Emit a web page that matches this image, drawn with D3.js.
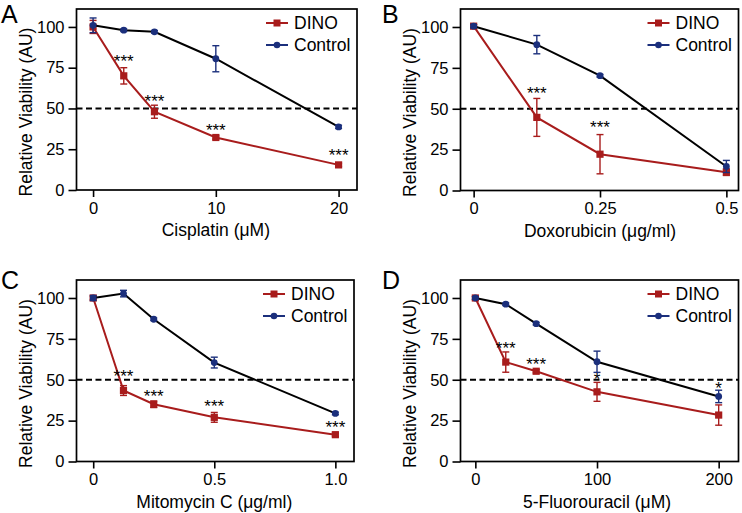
<!DOCTYPE html>
<html>
<head>
<meta charset="utf-8">
<script src="https://cdn.jsdelivr.net/npm/d3@7"></script>
<style>
  body { margin: 0; background: #fff; }
  svg { display: block; font-family: "Liberation Sans", Arial, sans-serif; }
</style>
</head>
<body>
<svg width="742" height="513"></svg>
<script>
/* Data */

// Panel A - Cisplatin (uM)
var cisDose = [0, 2.5, 5, 10, 20];
var cisDino = [100, 70, 48, 32.2, 15.4];
var cisDinoErr = [4, 5, 4, 1, 1];
var cisCtrl = [101, 98, 97, 80.5, 38.7];
var cisCtrlErr = [4.5, 0.8, 0.8, 8, 1];
var cisStars = ["", "***", "***", "***", "***"];
var cisStarAt = [null, 81, 57, 39, 23.5];
var cisTicks = [0, 10, 20];
var cisTickLabels = ["0", "10", "20"];

// Panel B - Doxorubicin (ug/ml)
var doxDose = [0, 0.125, 0.25, 0.5];
var doxDino = [100.5, 44.7, 22.2, 11.2];
var doxDinoErr = [1, 11.6, 12, 2];
var doxCtrl = [100.5, 89.2, 70.2, 14.7];
var doxCtrlErr = [1, 5.6, 0.8, 3.7];
var doxStars = ["", "***", "***", ""];
var doxStarAt = [null, 62, 41, null];
var doxTicks = [0, 0.25, 0.5];
var doxTickLabels = ["0", "0.25", "0.5"];

// Panel C - Mitomycin C (ug/ml)
var mitDose = [0, 0.125, 0.25, 0.5, 1.0];
var mitDino = [100, 43.4, 35, 27, 16.4];
var mitDinoErr = [1, 3, 2, 3, 1];
var mitCtrl = [100, 102.7, 87, 60.5, 29.4];
var mitCtrlErr = [1.5, 2, 0.8, 3.3, 0.8];
var mitStars = ["", "***", "***", "***", "***"];
var mitStarAt = [null, 54.2, 42.3, 36.2, 23];
var mitTicks = [0, 0.5, 1.0];
var mitTickLabels = ["0", "0.5", "1.0"];

// Panel D - 5-Fluorouracil (uM)
var fuDose = [0, 25, 50, 100, 200];
var fuDino = [100, 60.8, 55.2, 42.6, 28.4];
var fuDinoErr = [1, 6.2, 1, 5.8, 6.2];
var fuCtrl = [100, 96.2, 84.3, 61, 39.8];
var fuCtrlErr = [0.8, 0.8, 0.8, 6.5, 3.8];
var fuStars = ["", "***", "***", "*", "*"];
var fuStarAt = [null, 71.6, 62, 52.4, 46.8];
var fuTicks = [0, 100, 200];
var fuTickLabels = ["0", "100", "200"];

var yTicks = [0, 25, 50, 75, 100];
var legendNames = ["DINO", "Control"];

/* Style */
var dinoColor = "#a81c1c";
var ctrlColor = "#1b2f7c";

var svg = d3.select("svg");

var panels = [
    { letter: "A", title: "Cisplatin (\u03bcM)", dose: cisDose, dino: cisDino, dinoErr: cisDinoErr,
      ctrl: cisCtrl, ctrlErr: cisCtrlErr, stars: cisStars, starAt: cisStarAt,
      ticks: cisTicks, tickLabels: cisTickLabels,
      box: [76.5, 9, 357, 190], xDomain: [-1.35, 21.5], letterPos: [1, 23] },
    { letter: "B", title: "Doxorubicin (\u03bcg/ml)", dose: doxDose, dino: doxDino, dinoErr: doxDinoErr,
      ctrl: doxCtrl, ctrlErr: doxCtrlErr, stars: doxStars, starAt: doxStarAt,
      ticks: doxTicks, tickLabels: doxTickLabels,
      box: [460.5, 9, 738.5, 190.5], xDomain: [-0.026, 0.524], letterPos: [382, 23] },
    { letter: "C", title: "Mitomycin C (\u03bcg/ml)", dose: mitDose, dino: mitDino, dinoErr: mitDinoErr,
      ctrl: mitCtrl, ctrlErr: mitCtrlErr, stars: mitStars, starAt: mitStarAt,
      ticks: mitTicks, tickLabels: mitTickLabels,
      box: [76.5, 280, 354, 461.5], xDomain: [-0.069, 1.077], letterPos: [1, 289] },
    { letter: "D", title: "5-Fluorouracil (\u03bcM)", dose: fuDose, dino: fuDino, dinoErr: fuDinoErr,
      ctrl: fuCtrl, ctrlErr: fuCtrlErr, stars: fuStars, starAt: fuStarAt,
      ticks: fuTicks, tickLabels: fuTickLabels,
      box: [460.5, 280, 738.5, 461.5], xDomain: [-12.2, 216.3], letterPos: [382, 289] }
];

panels.forEach(drawPanel);

function drawPanel(p) {
    var left = p.box[0], top = p.box[1], right = p.box[2], bottom = p.box[3];
    var x = d3.scaleLinear().domain(p.xDomain).range([left, right]);
    var y = d3.scaleLinear().domain([0, 111]).range([bottom, top]);
    var g = svg.append("g");

    // axes
    var yAxis = g.append("g")
        .attr("transform", "translate(" + left + ",0)")
        .call(d3.axisLeft(y).tickValues(yTicks).tickSize(8).tickPadding(4));
    var xAxis = g.append("g")
        .attr("transform", "translate(0," + bottom + ")")
        .call(d3.axisBottom(x).tickValues(p.ticks).tickSize(7).tickPadding(5)
            .tickFormat(function(d, i){ return p.tickLabels[i]; }));
    [yAxis, xAxis].forEach(function(a){
        a.select(".domain").remove();
        a.selectAll("line").attr("stroke", "#000").attr("stroke-width", 1.6);
        a.selectAll("text").attr("fill", "#000").style("font-size", "16.5px")
            .style("font-family", "'Liberation Sans', Arial, sans-serif");
    });

    // frame
    g.append("rect")
        .attr("x", left).attr("y", top)
        .attr("width", right - left).attr("height", bottom - top)
        .attr("fill", "none").attr("stroke", "#000").attr("stroke-width", 1.7);

    // 50% line
    g.append("line")
        .attr("x1", left).attr("x2", right)
        .attr("y1", y(50)).attr("y2", y(50))
        .attr("stroke", "#000").attr("stroke-width", 2)
        .attr("stroke-dasharray", "6,3.5");

    // series: DINO first, Control on top
    drawSeries(g, x, y, p.dose, p.dino, p.dinoErr, dinoColor, dinoColor, "square");
    drawSeries(g, x, y, p.dose, p.ctrl, p.ctrlErr, "#000", ctrlColor, "circle");

    // significance stars
    g.selectAll(".star")
        .data(p.dose.map(function(d, i){ return { x: d, s: p.stars[i], v: p.starAt[i] }; })
            .filter(function(d){ return d.s; }))
        .enter().append("text")
        .attr("x", function(d){ return x(d.x); })
        .attr("y", function(d){ return y(d.v) + 9.5; })
        .attr("text-anchor", "middle")
        .style("font-size", "17px")
        .text(function(d){ return d.s; });

    // legend
    var lx = right - 91;
    legendNames.forEach(function(name, i){
        var ly = top + 14 + i * 22;
        var col = i === 0 ? dinoColor : ctrlColor;
        g.append("line")
            .attr("x1", lx).attr("x2", lx + 22)
            .attr("y1", ly).attr("y2", ly)
            .attr("stroke", col).attr("stroke-width", 2);
        if (i === 0) {
            g.append("rect").attr("x", lx + 7.5).attr("y", ly - 3.5)
                .attr("width", 7).attr("height", 7).attr("fill", col);
        } else {
            g.append("circle").attr("cx", lx + 11).attr("cy", ly).attr("r", 3.3).attr("fill", col);
        }
        g.append("text")
            .attr("x", lx + 28).attr("y", ly + 6)
            .style("font-size", "17.5px")
            .text(name);
    });

    // axis titles
    g.append("text")
        .attr("x", (x(p.ticks[0]) + x(p.ticks[p.ticks.length - 1])) / 2)
        .attr("y", bottom + 46)
        .attr("text-anchor", "middle")
        .style("font-size", "17.5px")
        .text(p.title);
    g.append("text")
        .attr("transform", "translate(" + (left - 45) + "," + (bottom - 78) + ") rotate(-90)")
        .attr("text-anchor", "middle")
        .style("font-size", "17.5px")
        .text("Relative Viability (AU)");

    // panel letter
    g.append("text")
        .attr("x", p.letterPos[0]).attr("y", p.letterPos[1])
        .style("font-size", "25px")
        .text(p.letter);
}

function drawSeries(g, x, y, xs, vals, errs, lineColor, color, shape) {
    var pts = xs.map(function(d, i){ return { x: d, v: vals[i], e: errs[i] }; });
    var line = d3.line().x(function(d){ return x(d.x); }).y(function(d){ return y(d.v); });
    g.append("path").datum(pts)
        .attr("d", line)
        .attr("fill", "none").attr("stroke", lineColor).attr("stroke-width", 2);

    var eb = g.append("g").attr("stroke", color).attr("stroke-width", 1.4);
    pts.forEach(function(d){
        var cx = x(d.x);
        eb.append("line").attr("x1", cx).attr("x2", cx).attr("y1", y(d.v - d.e)).attr("y2", y(d.v + d.e));
        eb.append("line").attr("x1", cx - 3.5).attr("x2", cx + 3.5).attr("y1", y(d.v - d.e)).attr("y2", y(d.v - d.e));
        eb.append("line").attr("x1", cx - 3.5).attr("x2", cx + 3.5).attr("y1", y(d.v + d.e)).attr("y2", y(d.v + d.e));
    });

    if (shape === "square") {
        g.selectAll(null).data(pts).enter().append("rect")
            .attr("x", function(d){ return x(d.x) - 3.6; })
            .attr("y", function(d){ return y(d.v) - 3.6; })
            .attr("width", 7.2).attr("height", 7.2)
            .attr("fill", color);
    } else {
        g.selectAll(null).data(pts).enter().append("circle")
            .attr("cx", function(d){ return x(d.x); })
            .attr("cy", function(d){ return y(d.v); })
            .attr("r", 3.4)
            .attr("fill", color);
    }
}
</script>
</body>
</html>
